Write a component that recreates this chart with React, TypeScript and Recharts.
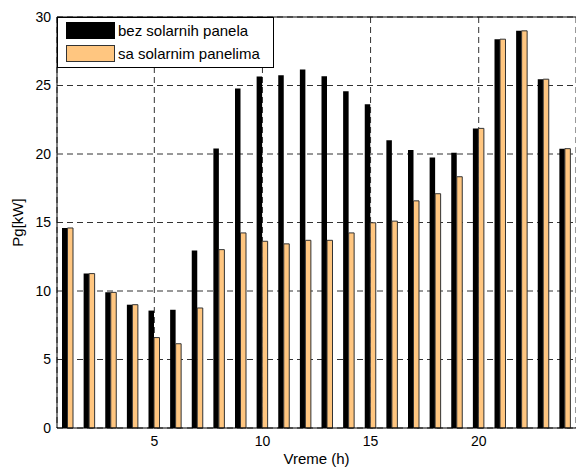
import React from "react";
import {
  BarChart,
  Bar,
  XAxis,
  YAxis,
  CartesianGrid,
  ReferenceLine,
} from "recharts";

const hours = [1, 2, 3, 4, 5, 6, 7, 8, 9, 10, 11, 12, 13, 14, 15, 16, 17, 18, 19, 20, 21, 22, 23, 24];

// bez solarnih panela
const bezSolarnih = [
  14.6, 11.27, 9.9, 9.0, 8.57, 8.63, 12.95, 20.4, 24.78, 25.65, 25.75, 26.17,
  25.68, 24.58, 23.63, 21.0, 20.3, 19.75, 20.1, 21.87, 28.38, 28.99, 25.46, 20.39,
];

// sa solarnim panelima
const saSolarnim = [
  14.6, 11.27, 9.9, 9.0, 6.6, 6.15, 8.76, 13.02, 14.24, 13.63, 13.44, 13.7,
  13.7, 14.24, 14.98, 15.1, 16.58, 17.1, 18.34, 21.87, 28.38, 28.99, 25.46, 20.39,
];

const xTicks = [5, 10, 15, 20];
const yTicks = [0, 5, 10, 15, 20, 25, 30];

const data = hours.map((h, i) => ({
  hour: h,
  bez: bezSolarnih[i],
  sa: saSolarnim[i],
}));

const ORANGE = "#FFC680";

const Legend = () => (
  <div
    style={{
      position: "absolute",
      left: 57,
      top: 17,
      width: 217,
      height: 51,
      boxSizing: "border-box",
      border: "1px solid #000",
      background: "#fff",
      fontSize: 15,
      color: "#000",
    }}
  >
    <div
      style={{
        position: "absolute",
        left: 8,
        top: 4,
        width: 49,
        height: 17,
        boxSizing: "border-box",
        background: "#000",
        border: "1px solid #000",
      }}
    />
    <div style={{ position: "absolute", left: 60, top: 4, lineHeight: "17px", whiteSpace: "nowrap" }}>
      bez solarnih panela
    </div>
    <div
      style={{
        position: "absolute",
        left: 8,
        top: 27,
        width: 49,
        height: 17,
        boxSizing: "border-box",
        background: ORANGE,
        border: "1px solid #333",
      }}
    />
    <div style={{ position: "absolute", left: 60, top: 27, lineHeight: "17px", whiteSpace: "nowrap" }}>
      sa solarnim panelima
    </div>
  </div>
);

export default function App() {
  return (
    <div
      style={{
        position: "absolute",
        left: 0,
        top: 0,
        width: 576,
        height: 468,
        background: "#fff",
        fontFamily: "'Liberation Sans', Arial, sans-serif",
      }}
    >
      <BarChart
        width={576}
        height={468}
        data={data}
        margin={{ top: 17, right: 0, bottom: 0, left: 0 }}
        barGap={0}
      >
        <CartesianGrid stroke="#333" strokeDasharray="6 4" />
        <XAxis
          dataKey="hour"
          type="number"
          domain={[0.5, 24.5]}
          ticks={xTicks}
          allowDataOverflow
          height={40}
          axisLine={{ stroke: "#000" }}
          tickLine={false}
          tick={{ fill: "#000", fontSize: 14 }}
          label={{
            value: "Vreme (h)",
            position: "insideBottom",
            offset: 4,
            fill: "#000",
            fontSize: 15,
          }}
        />
        <YAxis
          type="number"
          domain={[0, 30]}
          ticks={yTicks}
          width={57}
          axisLine={{ stroke: "#000" }}
          tickLine={false}
          tickSize={4}
          tickMargin={2}
          tick={{ fill: "#000", fontSize: 14 }}
          label={{
            value: "Pg[kW]",
            angle: -90,
            position: "insideLeft",
            offset: 18,
            textAnchor: "middle",
            style: { textAnchor: "middle" },
            fill: "#000",
            fontSize: 15,
          }}
        />
        <Bar
          dataKey="bez"
          fill="#000"
          barSize={5.5}
          isAnimationActive={false}
        />
        <Bar
          dataKey="sa"
          fill={ORANGE}
          stroke="#333"
          strokeWidth={1}
          barSize={5.5}
          isAnimationActive={false}
        />
        <ReferenceLine y={30} stroke="#000" strokeWidth={1} />
      </BarChart>
      <Legend />
    </div>
  );
}
